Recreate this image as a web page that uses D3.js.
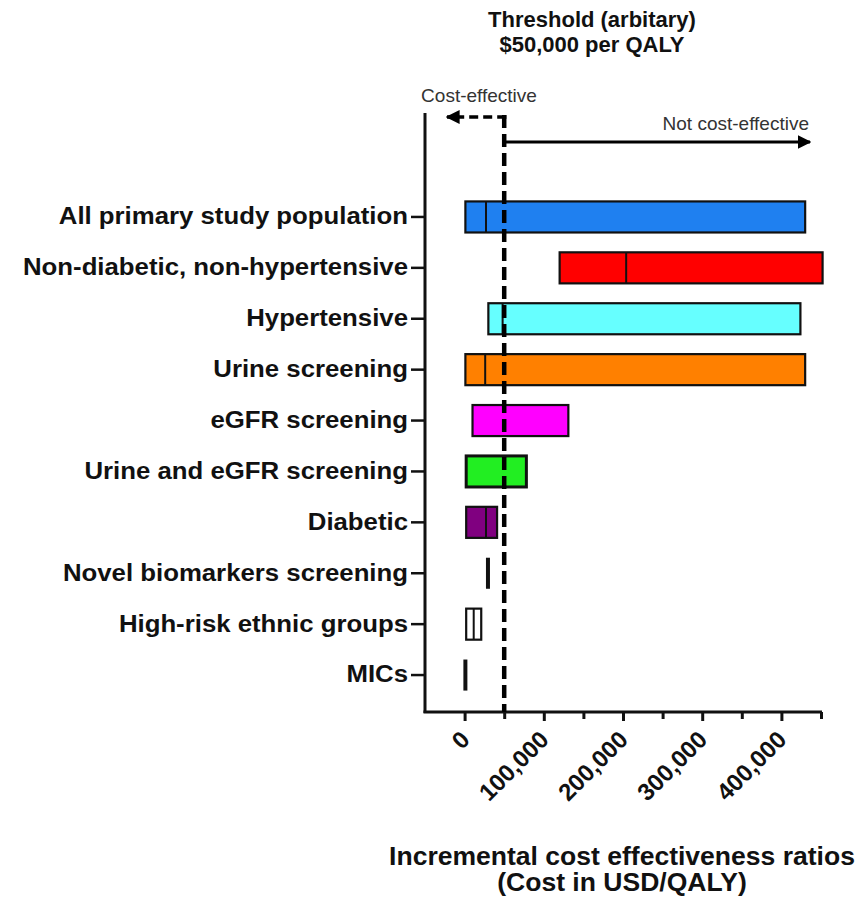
<!DOCTYPE html>
<html><head><meta charset="utf-8">
<script src="https://cdn.jsdelivr.net/npm/d3@7/dist/d3.min.js"></script>
<style>body{margin:0;background:#fff}</style>
</head><body>
<svg id="c" width="865" height="904"></svg>
<script>
const categories = ["All primary study population","Non-diabetic, non-hypertensive","Hypertensive","Urine screening","eGFR screening","Urine and eGFR screening","Diabetic","Novel biomarkers screening","High-risk ethnic groups","MICs"];
const lowValues    = [1000, 120000, 30000, 1000, 10000, 2000, 2000, 29500, 2000, 1000];
const medianValues = [27000, 204000, 48000, 26000, null, null, 27000, null, 11500, null];
const highValues   = [430000, 452000, 424000, 430000, 131000, 78000, 41000, 29500, 21000, 1000];
const barColors    = ["#1f80f0","#ff0000","#66ffff","#ff8000","#ff00ff","#22ee22","#800080","#ffffff","#ffffff","#ffffff"];
const xTicks = [0, 100000, 200000, 300000, 400000];
const xMinorTicks = [50000, 150000, 250000, 350000, 450000];
const threshold = 50000;

const svg = d3.select("#c");
const font = "'Liberation Sans', Arial, sans-serif";
const x = d3.scaleLinear().domain([-50000, 450000]).range([425, 821]);
const y = d3.scaleBand().domain(categories).range([191.5, 700.5]).paddingInner(0.39).paddingOuter(0.195);

const rows = categories.map((c,i)=>({c, lo:lowValues[i], med:medianValues[i], hi:highValues[i], col:barColors[i]}));

function stretch(sel, k) {
  sel.each(function(){ const w = this.getComputedTextLength(); d3.select(this).attr("textLength", w*k).attr("lengthAdjust","spacingAndGlyphs"); });
}

// bars
const g = svg.append("g");
rows.forEach(d=>{
  if (d.hi > d.lo) {
    g.append("rect").attr("x", x(d.lo)).attr("y", y(d.c)).attr("width", x(d.hi)-x(d.lo)).attr("height", y.bandwidth())
      .attr("fill", d.col).attr("stroke", "#111").attr("stroke-width", d.c==="Urine and eGFR screening"?3:2.2);
    if (d.med !== null) g.append("line").attr("x1", x(d.med)).attr("x2", x(d.med)).attr("y1", y(d.c)).attr("y2", y(d.c)+y.bandwidth())
      .attr("stroke","#111").attr("stroke-width",2);
  } else {
    g.append("line").attr("x1", x(d.lo)).attr("x2", x(d.lo)).attr("y1", y(d.c)).attr("y2", y(d.c)+y.bandwidth())
      .attr("stroke","#111").attr("stroke-width",4);
  }
});

// axes
const yAxis = svg.append("g").attr("transform","translate(425,0)")
  .call(d3.axisLeft(y).tickSize(14).tickPadding(3));
yAxis.select(".domain").remove();
yAxis.selectAll(".tick line").attr("stroke","#111").attr("stroke-width",2.5);
yAxis.selectAll("text").attr("font-family",font).attr("font-weight","bold").attr("font-size","23px").attr("fill","#111");
stretch(yAxis.selectAll("text"), 1.12);
svg.append("line").attr("x1",425).attr("x2",425).attr("y1",113).attr("y2",713).attr("stroke","#111").attr("stroke-width",3);

const xAxis = svg.append("g").attr("transform","translate(0,712)")
  .call(d3.axisBottom(x).tickValues(xTicks).tickSize(9).tickFormat(d3.format(",")));
xAxis.select(".domain").remove();
xAxis.selectAll(".tick line").attr("stroke","#111").attr("stroke-width",3);
xAxis.selectAll("text").attr("font-family",font).attr("font-weight","bold").attr("font-size","24px").attr("fill","#111")
  .attr("text-anchor","end").attr("dy",null).attr("y",0)
  .attr("transform","translate(6,29) rotate(-45)");
const xMinor = svg.append("g").attr("transform","translate(0,712)")
  .call(d3.axisBottom(x).tickValues(xMinorTicks).tickSize(7).tickFormat(""));
xMinor.select(".domain").remove();
xMinor.selectAll(".tick line").attr("stroke","#111").attr("stroke-width",3);
svg.append("line").attr("x1",423.5).attr("x2",822).attr("y1",712).attr("y2",712).attr("stroke","#111").attr("stroke-width",3);

// threshold line
svg.append("line").attr("x1",x(threshold)).attr("x2",x(threshold)).attr("y1",115).attr("y2",712)
  .attr("stroke","#000").attr("stroke-width",4.5).attr("stroke-dasharray","13,6");

// arrows
const defs = svg.append("defs");
defs.append("marker").attr("id","ah").attr("viewBox","0 0 10 10").attr("refX",9).attr("refY",5)
  .attr("markerWidth",4).attr("markerHeight",4).attr("markerUnits","strokeWidth").attr("orient","auto")
  .append("path").attr("d","M0,0 L10,5 L0,10 Z").attr("fill","#000");
defs.append("marker").attr("id","ah2").attr("viewBox","0 0 10 10").attr("refX",9).attr("refY",5)
  .attr("markerWidth",4.5).attr("markerHeight",4.5).attr("markerUnits","strokeWidth").attr("orient","auto")
  .append("path").attr("d","M0,0 L10,5 L0,10 Z").attr("fill","#000");
svg.append("line").attr("x1",x(threshold)+2).attr("x2",447).attr("y1",117).attr("y2",117)
  .attr("stroke","#000").attr("stroke-width",3.5).attr("stroke-dasharray","9,5").attr("marker-end","url(#ah)");
svg.append("line").attr("x1",x(threshold)-2).attr("x2",x(threshold)+2).attr("y1",117).attr("y2",117).attr("stroke","#000").attr("stroke-width",4);
svg.append("line").attr("x1",x(threshold)).attr("x2",810).attr("y1",142).attr("y2",142)
  .attr("stroke","#000").attr("stroke-width",3).attr("marker-end","url(#ah2)");

// texts
const t = (txt, xx, yy, size, weight, anchor) => svg.append("text").attr("x",xx).attr("y",yy).text(txt)
  .attr("font-family",font).attr("font-size",size).attr("font-weight",weight).attr("text-anchor",anchor||"middle").attr("fill","#111");
t("Threshold (arbitary)", 592, 27, "22px", "bold");
t("$50,000 per QALY", 592, 52, "22px", "bold");
t("Cost-effective", 479, 102, "19px", "normal").attr("fill","#333");
t("Not cost-effective", 809, 130, "19px", "normal", "end").attr("fill","#333");
stretch(t("Incremental cost effectiveness ratios", 622, 865, "25.5px", "bold"), 1.04);
stretch(t("(Cost in USD/QALY)", 622, 891, "25.5px", "bold"), 1.04);
</script>
</body></html>
